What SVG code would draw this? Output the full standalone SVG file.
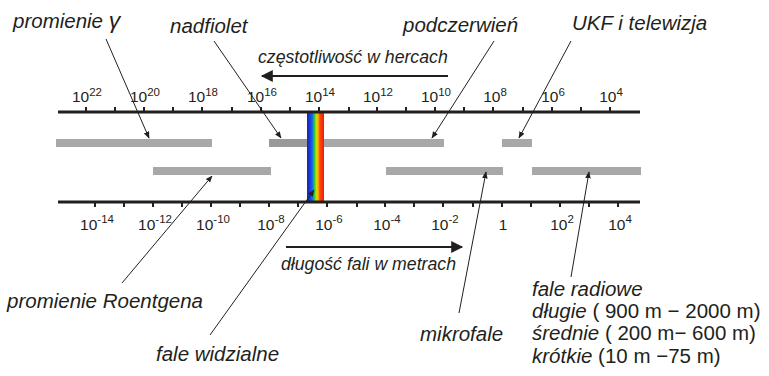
<svg xmlns="http://www.w3.org/2000/svg" width="769" height="376" viewBox="0 0 769 376">
<defs>
<style>
.lbl{font-family:"Liberation Sans",Arial,sans-serif;font-style:italic;font-size:20.5px;fill:#231f20}
.up{font-style:normal}
.ax{font-family:"Liberation Sans",Arial,sans-serif;font-size:15.5px;fill:#231f20;text-anchor:middle}
.sup{font-size:11.5px}
.axis{stroke:#231f20;stroke-width:3}
.tick{stroke:#231f20;stroke-width:2}
.bar{fill:#a7a8aa}
.lead{stroke:#231f20;stroke-width:1;fill:none;marker-end:url(#ah)}
.dir{stroke:#231f20;stroke-width:2;fill:none}
</style>
<marker id="ah" viewBox="0 0 10 10" refX="9" refY="5" markerWidth="7" markerHeight="7" markerUnits="userSpaceOnUse" orient="auto">
<path d="M0,1 L10,5 L0,9 Z" fill="#231f20"/>
</marker>
<marker id="bh" viewBox="0 0 10 10" refX="9" refY="5" markerWidth="14" markerHeight="12" markerUnits="userSpaceOnUse" orient="auto">
<path d="M0,0 L10,5 L0,10 Z" fill="#231f20"/>
</marker>
<linearGradient id="rb" x1="0" y1="0" x2="1" y2="0">
<stop offset="0" stop-color="#1c2a8e"/>
<stop offset="0.12" stop-color="#1f2fd0"/>
<stop offset="0.3" stop-color="#1060ff"/>
<stop offset="0.42" stop-color="#1fc050"/>
<stop offset="0.55" stop-color="#c8e000"/>
<stop offset="0.65" stop-color="#ffb000"/>
<stop offset="0.75" stop-color="#ff4a00"/>
<stop offset="1" stop-color="#f01818"/>
</linearGradient>
</defs>

<g id="bars">
<rect class="bar" x="56" y="139" width="156" height="8"/>
<rect x="269" y="139" width="38" height="8" fill="#98999b"/>
<rect class="bar" x="324" y="139" width="120" height="8"/>
<rect class="bar" x="502" y="139" width="30" height="8"/>
<rect class="bar" x="153" y="167" width="118" height="8"/>
<rect class="bar" x="386" y="167" width="117" height="8"/>
<rect class="bar" x="532" y="167" width="109" height="8"/>
</g>

<g id="visible">
<rect x="307" y="112" width="17" height="90" fill="url(#rb)"/>
</g>

<g id="freq-axis">
<line class="axis" x1="58" y1="112" x2="640" y2="112"/>
<g class="tick">
<line x1="86" y1="107" x2="86" y2="112"/><line x1="115" y1="107" x2="115" y2="112"/><line x1="144" y1="107" x2="144" y2="112"/><line x1="173" y1="107" x2="173" y2="112"/><line x1="202" y1="107" x2="202" y2="112"/><line x1="232" y1="107" x2="232" y2="112"/><line x1="261" y1="107" x2="261" y2="112"/><line x1="290" y1="107" x2="290" y2="112"/><line x1="319" y1="107" x2="319" y2="112"/><line x1="349" y1="107" x2="349" y2="112"/><line x1="377" y1="107" x2="377" y2="112"/><line x1="406" y1="107" x2="406" y2="112"/><line x1="435" y1="107" x2="435" y2="112"/><line x1="464" y1="107" x2="464" y2="112"/><line x1="493" y1="107" x2="493" y2="112"/><line x1="523" y1="107" x2="523" y2="112"/><line x1="552" y1="107" x2="552" y2="112"/><line x1="581" y1="107" x2="581" y2="112"/><line x1="610" y1="107" x2="610" y2="112"/>
</g>
<text class="ax" x="87" y="102">10<tspan class="sup" dy="-6">22</tspan></text>
<text class="ax" x="145" y="102">10<tspan class="sup" dy="-6">20</tspan></text>
<text class="ax" x="203" y="102">10<tspan class="sup" dy="-6">18</tspan></text>
<text class="ax" x="262" y="102">10<tspan class="sup" dy="-6">16</tspan></text>
<text class="ax" x="320" y="102">10<tspan class="sup" dy="-6">14</tspan></text>
<text class="ax" x="378" y="102">10<tspan class="sup" dy="-6">12</tspan></text>
<text class="ax" x="436" y="102">10<tspan class="sup" dy="-6">10</tspan></text>
<text class="ax" x="495" y="102">10<tspan class="sup" dy="-6">8</tspan></text>
<text class="ax" x="553" y="102">10<tspan class="sup" dy="-6">6</tspan></text>
<text class="ax" x="611" y="102">10<tspan class="sup" dy="-6">4</tspan></text>
</g>

<g id="wave-axis">
<line class="axis" x1="58" y1="202" x2="640" y2="202"/>
<g class="tick">
<line x1="95" y1="202" x2="95" y2="207"/><line x1="124" y1="202" x2="124" y2="207"/><line x1="153" y1="202" x2="153" y2="207"/><line x1="182" y1="202" x2="182" y2="207"/><line x1="211" y1="202" x2="211" y2="207"/><line x1="240" y1="202" x2="240" y2="207"/><line x1="269" y1="202" x2="269" y2="207"/><line x1="298" y1="202" x2="298" y2="207"/><line x1="327" y1="202" x2="327" y2="207"/><line x1="357" y1="202" x2="357" y2="207"/><line x1="385" y1="202" x2="385" y2="207"/><line x1="414" y1="202" x2="414" y2="207"/><line x1="443" y1="202" x2="443" y2="207"/><line x1="473" y1="202" x2="473" y2="207"/><line x1="502" y1="202" x2="502" y2="207"/><line x1="531" y1="202" x2="531" y2="207"/><line x1="560" y1="202" x2="560" y2="207"/><line x1="589" y1="202" x2="589" y2="207"/><line x1="618" y1="202" x2="618" y2="207"/>
</g>
<text class="ax" x="97" y="230">10<tspan class="sup" dy="-7">-14</tspan></text>
<text class="ax" x="155" y="230">10<tspan class="sup" dy="-7">-12</tspan></text>
<text class="ax" x="213" y="230">10<tspan class="sup" dy="-7">-10</tspan></text>
<text class="ax" x="271" y="230">10<tspan class="sup" dy="-7">-8</tspan></text>
<text class="ax" x="329" y="230">10<tspan class="sup" dy="-7">-6</tspan></text>
<text class="ax" x="387" y="230">10<tspan class="sup" dy="-7">-4</tspan></text>
<text class="ax" x="445" y="230">10<tspan class="sup" dy="-7">-2</tspan></text>
<text class="ax" x="503" y="230">1</text>
<text class="ax" x="562" y="230">10<tspan class="sup" dy="-7">2</tspan></text>
<text class="ax" x="620" y="230">10<tspan class="sup" dy="-7">4</tspan></text>
</g>

<g id="freq-dir">
<line class="dir" x1="448" y1="76" x2="262" y2="76" marker-end="url(#bh)"/>
<text class="lbl" x="258" y="63" style="font-size:17.7px">częstotliwość w hercach</text>
</g>
<g id="wave-dir">
<line class="dir" x1="286" y1="247" x2="462" y2="247" marker-end="url(#bh)"/>
<text class="lbl" x="281" y="270" style="font-size:17.7px">długość fali w metrach</text>
</g>

<g id="connectors">
<line class="lead" x1="106" y1="39" x2="149" y2="138"/>
<line class="lead" x1="214" y1="41" x2="281" y2="138"/>
<line class="lead" x1="494" y1="41" x2="432" y2="138"/>
<line class="lead" x1="571" y1="41" x2="519" y2="138"/>
<line class="lead" x1="122" y1="283" x2="212" y2="176"/>
<line class="lead" x1="210" y1="335" x2="314" y2="190"/>
<line class="lead" x1="459" y1="313" x2="486" y2="172"/>
<line class="lead" x1="571" y1="277" x2="589" y2="172"/>
</g>

<g id="gamma"><text class="lbl" x="13" y="28">promienie <tspan style="font-size:23px">γ</tspan></text></g>
<g id="uv"><text class="lbl" x="170" y="33">nadfiolet</text></g>
<g id="ir"><text class="lbl" x="403" y="32">podczerwień</text></g>
<g id="ukf"><text class="lbl" x="572" y="30">UKF i telewizja</text></g>
<g id="xray"><text class="lbl" x="7" y="308">promienie Roentgena</text></g>
<g id="light"><text class="lbl" x="156" y="361">fale widzialne</text></g>
<g id="micro"><text class="lbl" x="420" y="341">mikrofale</text></g>
<g id="radio">
<text class="lbl" x="532" y="296">fale radiowe</text>
<text class="lbl" x="532" y="318">długie<tspan class="up"> ( 900 m − 2000 m)</tspan></text>
<text class="lbl" x="532" y="340">średnie<tspan class="up"> ( 200 m− 600 m)</tspan></text>
<text class="lbl" x="532" y="363">krótkie<tspan class="up"> (10 m −75 m)</tspan></text>
</g>
</svg>
